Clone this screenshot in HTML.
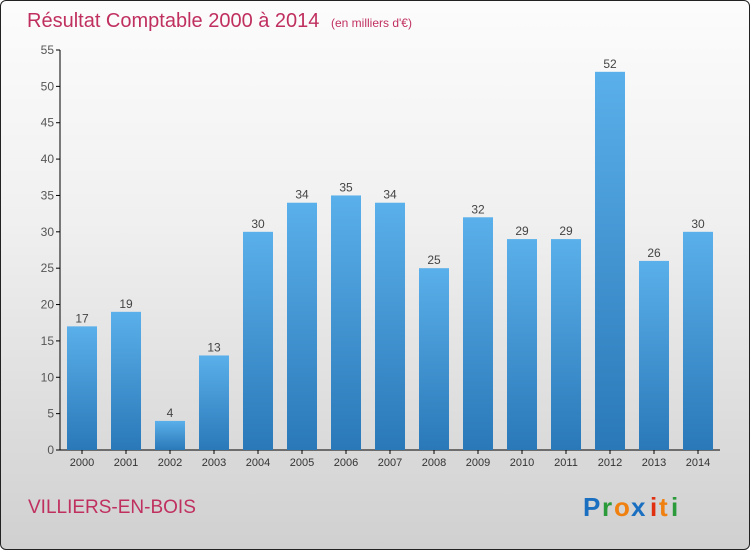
<!DOCTYPE html>
<html><head><meta charset="utf-8"><style>
html,body{margin:0;padding:0}
body{width:750px;height:550px;overflow:hidden;font-family:"Liberation Sans",sans-serif}
#frame{position:absolute;left:0;top:0;width:748px;height:548px;border:1px solid #222;border-radius:6px;background:linear-gradient(#fcfcfc,#f0f0f0 40%,#d0d0d0)}
</style></head><body>
<div id="frame"></div>
<svg id="chart" width="750" height="550" style="position:absolute;left:0;top:0">
<defs><linearGradient id="bg" x1="0" y1="0" x2="0" y2="1"><stop offset="0" stop-color="#5ab0ea"/><stop offset="1" stop-color="#2a78b8"/></linearGradient></defs>
<text x="27" y="27" font-size="20" fill="#c0305f">Résultat Comptable 2000 à 2014 <tspan font-size="12" dx="6">(en milliers d'€)</tspan></text>
<g id="ax"></g><g id="bars"></g>
<text x="28" y="513" font-size="19" fill="#c0305f">VILLIERS-EN-BOIS</text>
<g font-size="26" font-weight="bold">
<text x="583" y="516" fill="#1a6fc0">P</text><text x="602" y="516" fill="#2a9a3a">r</text><text x="614" y="516" fill="#f08010">o</text><text x="631" y="516" fill="#1a6fc0">x</text><text x="650" y="516" fill="#e03010">i</text><text x="659" y="516" fill="#f08010">t</text><text x="671" y="516" fill="#2a9a3a">i</text></g>
</svg>
<script>
const years=["2000","2001","2002","2003","2004","2005","2006","2007","2008","2009","2010","2011","2012","2013","2014"];
const values=[17,19,4,13,30,34,35,34,25,32,29,29,52,26,30];
const ticks=[0,5,10,15,20,25,30,35,40,45,50,55];
const NS="http://www.w3.org/2000/svg";
const y=v=>450-v*400/55, x=i=>82+i*44;
function mk(t,a,p,txt){const e=document.createElementNS(NS,t);for(const k in a)e.setAttribute(k,a[k]);if(txt!==undefined)e.textContent=txt;p.appendChild(e);return e;}
const ax=document.getElementById('ax'),bars=document.getElementById('bars');
const yl=mk('line',{x1:60,y1:50,x2:60,y2:450,stroke:'#000'},ax);


const xl=mk('line',{x1:60,y1:450,x2:720,y2:450,stroke:'#000'},ax);


ticks.forEach(t=>{
 mk('line',{x1:56,y1:y(t),x2:60,y2:y(t),stroke:'#000'},ax);
 const l=mk('text',{x:54,y:y(t)+4,'font-size':12,fill:'#555','text-anchor':'end'},ax,t);
 
 
});
years.forEach((yr,i)=>{
 const r=mk('rect',{x:x(i)-15,y:y(values[i]),width:30,height:450-y(values[i]),fill:'url(#bg)'},bars);
 
 
 const v=mk('text',{x:x(i),y:y(values[i])-4,'font-size':12,fill:'#444','text-anchor':'middle'},bars,values[i]);
 
 
 mk('line',{x1:x(i),y1:450,x2:x(i),y2:454,stroke:'#000'},ax);
 const l=mk('text',{x:x(i),y:466,'font-size':11,fill:'#333','text-anchor':'middle'},ax,yr);
 
 
});
</script>
</body></html>
